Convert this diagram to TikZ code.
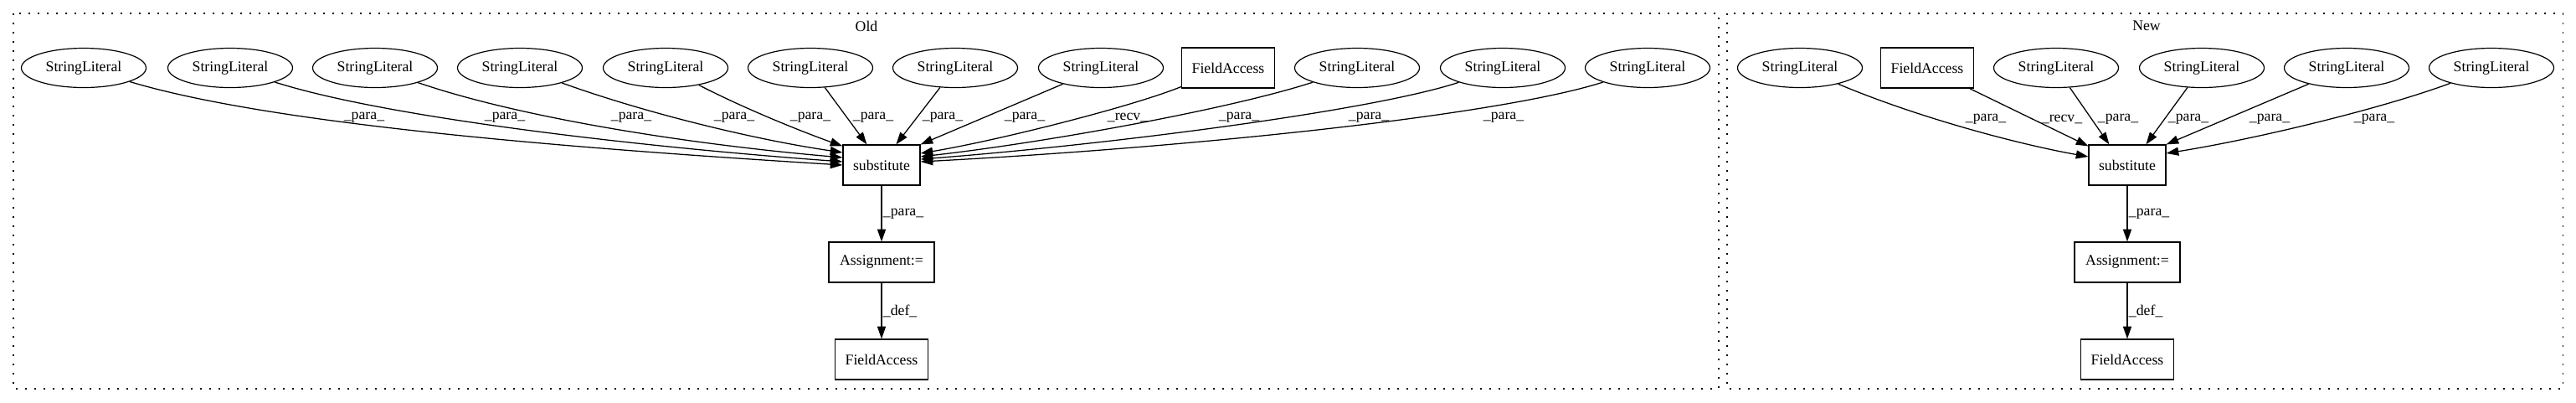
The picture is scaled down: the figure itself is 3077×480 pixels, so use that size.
\documentclass[tikz,border=0pt]{standalone}
\usepackage{fontspec}
\setmainfont{Liberation Serif}
\usetikzlibrary{arrows.meta,shapes.geometric,calc}
\begin{document}
\begin{tikzpicture}[x=0.75pt,y=-0.75pt,
  every node/.style={font=\fontsize{13.3}{16}\selectfont},
  lit/.style={draw,ellipse,line width=0.9pt,minimum width=111.75pt,minimum height=35.25pt,inner sep=0pt},
  box/.style={draw,rectangle,line width=0.9pt,minimum height=36pt,inner sep=0pt},
  edge/.style={line width=0.95pt,-{Triangle[length=11pt,width=7.5pt]}},
  lbl/.style={inner sep=0pt},
  vlbl/.style={anchor=west,inner sep=1pt},
  cluster/.style={line width=0.8pt,dash pattern=on 1.5pt off 6.75pt}]
\useasboundingbox (0,0) rectangle (3077,480);

% ---------------- Old ----------------
\draw[cluster] (16,16) rectangle (2053,464);
\node (oldlbl) at (1035,31) {Old};
\node[lit] (o1) at (100,81) {StringLiteral};
\node[lit] (o2) at (275,81) {StringLiteral};
\node[lit] (o3) at (448,81) {StringLiteral};
\node[lit] (o4) at (621,81) {StringLiteral};
\node[lit] (o5) at (795,81) {StringLiteral};
\node[lit] (o6) at (968,81) {StringLiteral};
\node[lit] (o7) at (1141,81) {StringLiteral};
\node[lit] (o8) at (1315,81) {StringLiteral};
\node[box,minimum width=83.25pt] (ofa) at (1467,81) {FieldAccess};
\node[lit] (o9) at (1621,81) {StringLiteral};
\node[lit] (o10) at (1795,81) {StringLiteral};
\node[lit] (o11) at (1968,81) {StringLiteral};
\node[box,minimum width=69pt] (osub) at (1053,197) {substitute};
\node[box,minimum width=94.5pt] (oasg) at (1053,313) {Assignment:=};
\node[box,minimum width=83.25pt] (ofa2) at (1053,429) {FieldAccess};

\draw[edge] (o1) .. controls (330,150) and (700,178) .. (osub.west);
\draw[edge] (o2) .. controls (460,140) and (760,175) .. ($(osub.west)+(0,-4)$);
\draw[edge] (o3) .. controls (620,140) and (820,172) .. ($(osub.west)+(0,-9)$);
\draw[edge] (o4) .. controls (780,138) and (910,168) .. ($(osub.west)+(0,-15)$);
\draw[edge] (o5) .. controls (890,130) and (960,158) .. ($(osub.north west)+(0,2)$);
\draw[edge] (o6) -- ($(osub.north west)+(29,0)$);
\draw[edge] (o7) -- ($(osub.north west)+(64,0)$);
\draw[edge] (o8) -- (osub.north east);
\draw[edge] (ofa) .. controls (1350,128) and (1190,168) .. ($(osub.east)+(0,-14)$);
\draw[edge] (o9) .. controls (1470,130) and (1250,170) .. ($(osub.east)+(0,-10)$);
\draw[edge] (o10) .. controls (1640,132) and (1330,172) .. ($(osub.east)+(0,-7)$);
\draw[edge] (o11) .. controls (1790,138) and (1420,176) .. ($(osub.east)+(0,-4)$);

\node[lbl] (lo1) at (435,140) {\_para\_};
\node[lbl] (lo2) at (603,140) {\_para\_};
\node[lbl] (lo3) at (754,140) {\_para\_};
\node[lbl] (lo4) at (877,140) {\_para\_};
\node[lbl] (lo5) at (968,140) {\_para\_};
\node[lbl] (lo6) at (1043,140) {\_para\_};
\node[lbl] (lo7) at (1126,140) {\_para\_};
\node[lbl] (lo8) at (1224,140) {\_para\_};
\node[lbl] (lo9) at (1347,140) {\_recv\_};
\node[lbl] (lo10) at (1480,140) {\_para\_};
\node[lbl] (lo11) at (1635,140) {\_para\_};
\node[lbl] (lo12) at (1796,140) {\_para\_};

\draw[edge] (osub) -- node[vlbl] (lov1) {\_para\_} (oasg);
\draw[edge] (oasg) -- node[vlbl] (lov2) {\_def\_} (ofa2);

% ---------------- New ----------------
\draw[cluster] (2063,16) rectangle (3061,464);
\node (newlbl) at (2564,31) {New};
\node[lit] (n1) at (2150,81) {StringLiteral};
\node[box,minimum width=83.25pt] (nfa) at (2302,81) {FieldAccess};
\node[lit] (n2) at (2456,81) {StringLiteral};
\node[lit] (n3) at (2630,81) {StringLiteral};
\node[lit] (n4) at (2803,81) {StringLiteral};
\node[lit] (n5) at (2976,81) {StringLiteral};
\node[box,minimum width=69pt] (nsub) at (2541,197) {substitute};
\node[box,minimum width=94.5pt] (nasg) at (2541,313) {Assignment:=};
\node[box,minimum width=83.25pt] (nfa2) at (2541,429) {FieldAccess};

\draw[edge] (n1) .. controls (2290,140) and (2410,172) .. ($(nsub.west)+(0,-10)$);
\draw[edge] (nfa) -- ($(nsub.north west)+(0,2)$);
\draw[edge] (n2) -- ($(nsub.north west)+(25,0)$);
\draw[edge] (n3) -- ($(nsub.north west)+(69,0)$);
\draw[edge] (n4) -- (nsub.north east);
\draw[edge] (n5) .. controls (2850,128) and (2700,165) .. ($(nsub.east)+(0,-14)$);

\node[lbl] (ln1) at (2372,142) {\_para\_};
\node[lbl] (ln2) at (2463,142) {\_recv\_};
\node[lbl] (ln3) at (2530,142) {\_para\_};
\node[lbl] (ln4) at (2614,142) {\_para\_};
\node[lbl] (ln5) at (2711,142) {\_para\_};
\node[lbl] (ln6) at (2836,142) {\_para\_};

\draw[edge] (nsub) -- node[vlbl] (lnv1) {\_para\_} (nasg);
\draw[edge] (nasg) -- node[vlbl] (lnv2) {\_def\_} (nfa2);
\end{tikzpicture}
\end{document}
